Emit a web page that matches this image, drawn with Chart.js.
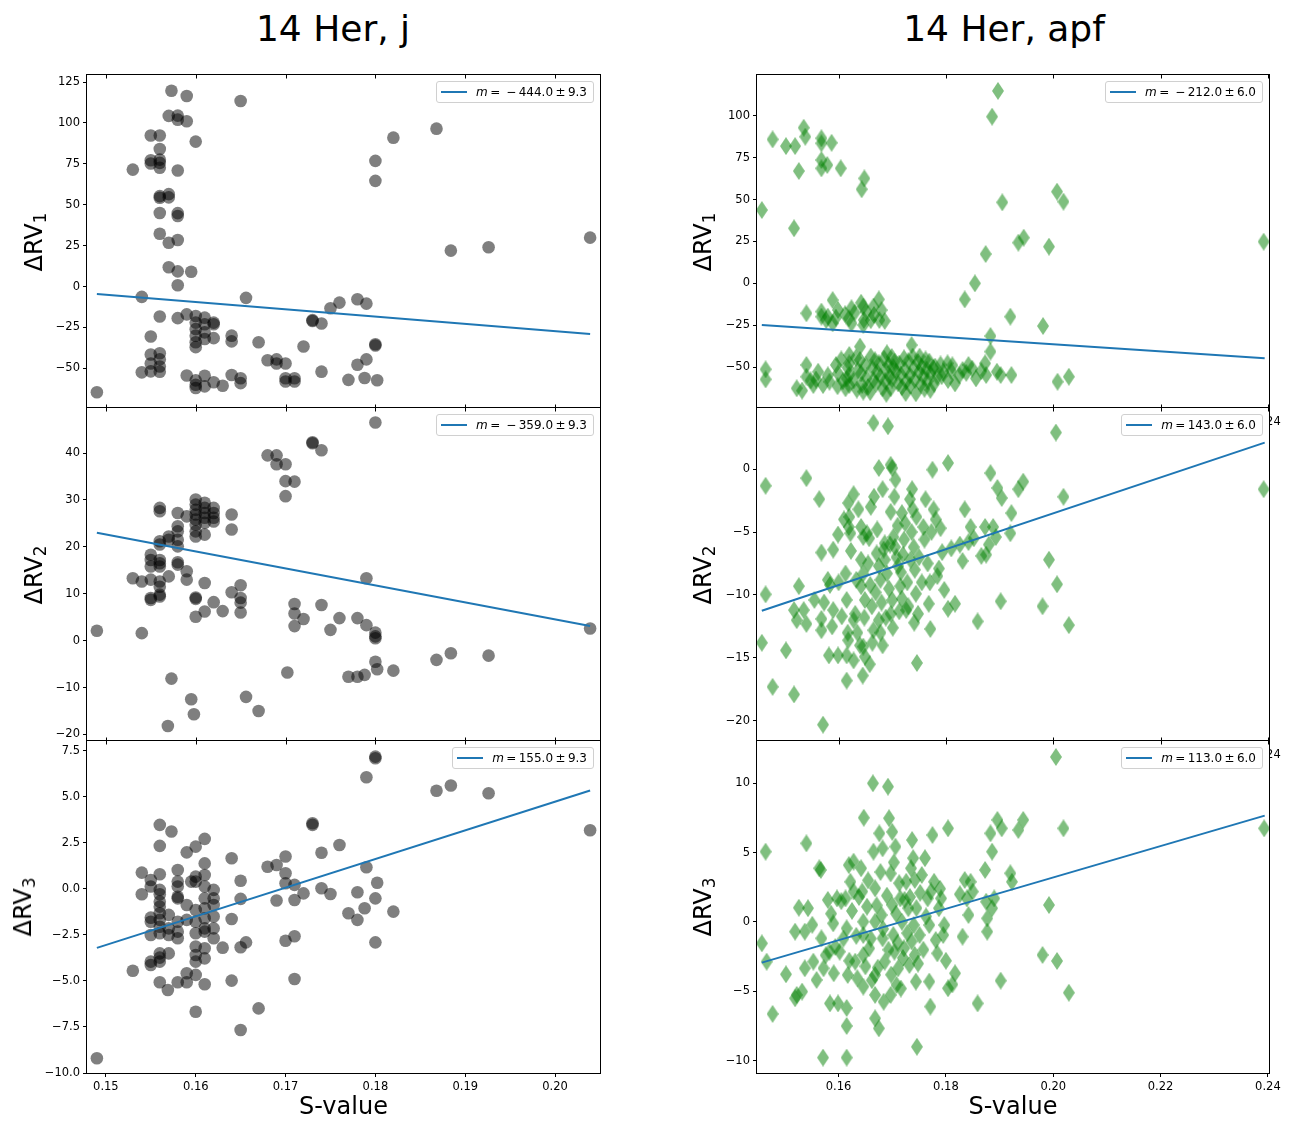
<!DOCTYPE html>
<html>
<head>
<meta charset="utf-8">
<script src="https://cdn.jsdelivr.net/npm/chart.js@4.4.1/dist/chart.umd.min.js"></script>
<style>
  body { margin: 0; background: #fff; font-family: 'DejaVu Sans', sans-serif; }
  #page { position: relative; width: 1291px; height: 1123px; overflow: hidden; background: #fff; }
  #page canvas { position: absolute; }
  .title { position: absolute; top: 11px; font-size: 36px; line-height: 36px; white-space: nowrap; transform: translateX(-50%); color: #000; }
  .ylab { position: absolute; font-size: 24px; line-height: 24px; white-space: nowrap; color: #000;
          transform: translate(-50%, -50%) rotate(-90deg); z-index: 30; }
  .ylab sub { font-size: 0.7em; vertical-align: -0.25em; line-height: 0; }
  .leg { position: absolute; height: 20px; display: flex; align-items: center; padding: 0 6px 0 4px;
         border: 1px solid #d0d0d0; border-radius: 3px; background: rgba(255,255,255,0.8);
         font-size: 12px; white-space: nowrap; z-index: 30; color: #000; }
  .leg .ln { display: inline-block; width: 26px; height: 2px; background: #1f77b4; margin-right: 9px; }
</style>
</head>
<body>
<div id="page">
  <div class="title" style="left:333px">14 Her, j</div>
  <div class="title" style="left:1004px">14 Her, apf</div>
</div>
<script>
// S-value tick marks
const jTicksX = [0.15, 0.16, 0.17, 0.18, 0.19, 0.20];
const apfTicksX = [0.16, 0.18, 0.20, 0.22, 0.24];

// y tick marks per panel
const jTicksY1 = [125, 100, 75, 50, 25, 0, -25, -50];
const jTicksY2 = [40, 30, 20, 10, 0, -10, -20];
const jTicksY3 = [7.5, 5, 2.5, 0, -2.5, -5, -7.5, -10];
const apfTicksY1 = [100, 75, 50, 25, 0, -25, -50];
const apfTicksY2 = [0, -5, -10, -15, -20];
const apfTicksY3 = [10, 5, 0, -5, -10];

// fitted slopes shown in the legends
const jSlope = [-444.0, -359.0, 155.0];
const jErr = 9.3;
const apfSlope = [-212.0, 143.0, 113.0];
const apfErr = 6.0;

// fit lines, [S, dRV] at both ends
const jFit1 = [[0.1490, -4.5], [0.2039, -29.0]];
const jFit2 = [[0.1490, 23.0], [0.2039, 3.1]];
const jFit3 = [[0.1490, -3.2], [0.2039, 5.35]];
const apfFit1 = [[0.1457, -24.9], [0.2394, -44.8]];
const apfFit2 = [[0.1457, -11.25], [0.2394, 2.1]];
const apfFit3 = [[0.1457, -2.93], [0.2394, 7.67]];

// j spectrograph: [S-value, dRV]
const jRv1 = [[0.1490,-64.6],[0.153,71.5],[0.154,-6.3],[0.154,-52.4],[0.155,92.3],[0.156,92.3],[0.156,84.1],[0.155,77.2],[0.155,75.2],[0.156,77.6],[0.156,75.6],[0.156,72.6],[0.156,55.3],[0.156,54.3],[0.157,56.5],[0.157,54.5],[0.156,45.0],[0.156,32.3],[0.157,26.8],[0.158,28.5],[0.158,44.9],[0.158,43.1],[0.157,11.8],[0.158,9.3],[0.1595,9.1],[0.158,0.8],[0.1573,119.7],[0.159,116.5],[0.157,104.3],[0.158,104.5],[0.158,102.0],[0.159,101.0],[0.160,88.6],[0.158,70.9],[0.165,113.4],[0.156,-18.3],[0.155,-30.5],[0.155,-41.5],[0.155,-47.0],[0.156,-40.7],[0.156,-44.5],[0.156,-48.8],[0.156,-52.0],[0.155,-51.8],[0.158,-19.3],[0.159,-17.0],[0.160,-18.0],[0.160,-22.0],[0.160,-26.0],[0.160,-30.0],[0.160,-34.0],[0.160,-37.0],[0.161,-19.0],[0.161,-23.0],[0.161,-28.0],[0.161,-32.0],[0.162,-22.0],[0.162,-23.0],[0.162,-31.5],[0.159,-54.3],[0.160,-57.3],[0.160,-60.0],[0.160,-62.0],[0.161,-54.5],[0.161,-61.0],[0.162,-58.5],[0.163,-60.6],[0.164,-54.0],[0.165,-56.0],[0.165,-59.0],[0.164,-30.0],[0.164,-33.5],[0.1656,-6.9],[0.167,-34.0],[0.168,-45.0],[0.169,-44.5],[0.169,-47.0],[0.170,-47.0],[0.170,-56.0],[0.170,-58.0],[0.171,-56.0],[0.171,-58.0],[0.172,-36.6],[0.173,-20.5],[0.173,-21.0],[0.174,-22.6],[0.175,-13.2],[0.176,-9.8],[0.178,-7.7],[0.179,-10.4],[0.174,-52.0],[0.177,-57.0],[0.178,-47.8],[0.179,-44.5],[0.1788,-55.9],[0.1802,-57.2],[0.180,-35.2],[0.180,-36.0],[0.180,76.8],[0.180,64.6],[0.182,91.0],[0.1868,96.5],[0.1884,22.0],[0.1926,24.0],[0.2039,29.9]];
const jRv2 = [[0.149,2.1],[0.153,13.3],[0.154,12.6],[0.154,1.6],[0.155,18.3],[0.155,17.2],[0.155,15.8],[0.155,13.0],[0.155,9.1],[0.155,8.7],[0.156,28.3],[0.156,27.6],[0.156,21.2],[0.156,20.5],[0.156,17.2],[0.156,16.5],[0.156,15.8],[0.156,12.6],[0.156,11.5],[0.156,9.8],[0.156,9.4],[0.157,22.2],[0.157,21.5],[0.157,13.7],[0.158,27.2],[0.158,24.4],[0.158,23.3],[0.158,21.5],[0.158,20.1],[0.158,16.7],[0.158,16.2],[0.159,26.5],[0.159,14.8],[0.159,13.0],[0.160,30.1],[0.160,29.0],[0.160,27.9],[0.160,26.9],[0.160,25.8],[0.160,24.7],[0.160,23.3],[0.160,22.2],[0.161,29.4],[0.161,28.3],[0.161,27.2],[0.161,26.2],[0.161,25.1],[0.161,22.6],[0.162,28.3],[0.162,27.2],[0.162,26.2],[0.162,25.4],[0.164,26.9],[0.164,23.7],[0.161,12.3],[0.160,9.2],[0.160,8.9],[0.160,5.1],[0.161,6.2],[0.162,8.2],[0.163,6.3],[0.164,10.3],[0.165,11.8],[0.165,9.1],[0.165,8.1],[0.165,6.0],[0.1573,-8.1],[0.1595,-12.5],[0.1598,-15.7],[0.1569,-18.2],[0.1656,-12.0],[0.167,-15.0],[0.168,39.5],[0.169,39.5],[0.169,37.6],[0.170,37.6],[0.170,34.0],[0.170,30.8],[0.171,33.9],[0.173,42.3],[0.173,42.1],[0.174,40.6],[0.180,46.5],[0.179,13.3],[0.171,7.8],[0.171,5.8],[0.171,3.1],[0.172,4.6],[0.174,7.6],[0.175,2.3],[0.176,4.8],[0.178,4.8],[0.179,3.3],[0.180,1.7],[0.180,0.9],[0.180,0.5],[0.1702,-6.8],[0.177,-7.7],[0.178,-7.7],[0.1788,-7.3],[0.180,-4.5],[0.1802,-6.1],[0.182,-6.4],[0.1868,-4.1],[0.1884,-2.7],[0.1926,-3.2],[0.2039,2.6]];
const jRv3 = [[0.149,-9.2],[0.153,-4.44],[0.154,0.89],[0.154,-0.29],[0.155,0.49],[0.155,0.13],[0.155,-1.56],[0.155,-1.78],[0.155,-2.5],[0.155,-3.95],[0.155,-4.13],[0.156,3.48],[0.156,2.34],[0.156,0.8],[0.156,-0.05],[0.156,-0.29],[0.156,-0.69],[0.156,-0.96],[0.156,-1.32],[0.156,-1.68],[0.156,-2.05],[0.156,-2.41],[0.156,-3.5],[0.156,-3.73],[0.156,-3.95],[0.156,-5.07],[0.157,-1.41],[0.157,-2.14],[0.157,-2.5],[0.157,-3.5],[0.1569,-5.49],[0.1573,3.12],[0.158,1.03],[0.158,0.4],[0.158,0.13],[0.158,-0.42],[0.158,-0.51],[0.158,-1.78],[0.158,-2.32],[0.158,-2.68],[0.158,-5.07],[0.159,1.99],[0.159,-0.87],[0.159,-1.68],[0.159,-4.58],[0.159,-5.07],[0.160,2.3],[0.160,0.67],[0.160,0.4],[0.160,-1.14],[0.160,-1.78],[0.160,-2.41],[0.160,-3.13],[0.160,-3.59],[0.160,-3.95],[0.160,-4.67],[0.160,-6.67],[0.1595,0.4],[0.161,2.72],[0.161,1.39],[0.161,0.76],[0.161,0.13],[0.161,-0.51],[0.161,-1.05],[0.161,-1.59],[0.161,-2.14],[0.161,-2.32],[0.161,-3.22],[0.161,-3.77],[0.161,-5.18],[0.162,-0.05],[0.162,-0.51],[0.162,-0.87],[0.162,-1.5],[0.162,-2.14],[0.162,-2.68],[0.163,-3.19],[0.164,1.67],[0.164,-1.63],[0.164,-4.98],[0.165,0.45],[0.165,-0.54],[0.165,-3.17],[0.1656,-2.9],[0.165,-7.66],[0.167,-6.49],[0.168,1.21],[0.169,1.3],[0.169,-0.63],[0.170,1.76],[0.170,0.85],[0.170,0.31],[0.170,-2.81],[0.171,0.22],[0.171,-0.6],[0.171,-2.57],[0.171,-4.89],[0.172,-0.24],[0.173,3.57],[0.173,3.48],[0.174,1.97],[0.174,0.04],[0.175,-0.27],[0.176,2.39],[0.177,-1.32],[0.178,-1.68],[0.178,-0.18],[0.1788,-1.05],[0.179,1.18],[0.179,6.07],[0.180,7.19],[0.180,7.1],[0.180,-0.51],[0.1802,0.34],[0.180,-2.9],[0.182,-1.23],[0.1868,5.34],[0.1884,5.62],[0.1926,5.2],[0.2039,3.19]];

// apf spectrograph: [S-value, dRV]
const apfRv1 = [[0.1457,43.8],[0.1477,86.0],[0.1502,82.0],[0.1519,82.0],[0.1517,32.9],[0.1526,67.1],[0.1535,93.0],[0.1538,87.6],[0.1568,86.7],[0.1568,83.7],[0.1568,73.7],[0.1568,68.7],[0.1579,70.7],[0.1587,84.0],[0.1604,68.7],[0.1648,62.7],[0.1643,56.2],[0.1897,115.0],[0.1886,99.6],[0.1905,48.4],[0.2007,54.8],[0.2019,48.8],[0.1935,24.3],[0.1945,27.3],[0.1992,21.9],[0.2392,24.9],[0.1874,17.5],[0.1854,0.0],[0.1835,-9.6],[0.1920,-19.9],[0.1981,-25.5],[0.1883,-31.5],[0.1883,-40.8],
  [0.1540,-17.9],[0.1568,-16.9],[0.1568,-19.9],[0.1580,-19.9],[0.1589,-10.0],[0.1589,-23.9],[0.1599,-15.9],[0.1624,-14.9],[0.1619,-20.9],[0.1624,-23.9],[0.1642,-11.6],[0.1646,-13.9],[0.1647,-21.9],[0.1646,-24.9],[0.1665,-13.9],[0.1675,-9.6],[0.1666,-18.9],[0.1676,-21.9],[0.1686,-22.5],
  [0.1577,-22.0],[0.1595,-20.5],[0.1630,-17.5],[0.1652,-17.0],[0.1660,-22.0],[0.1680,-16.0],[0.1612,-18.5],
  [0.1464,-51.4],[0.1464,-57.4],[0.1522,-62.7],[0.1532,-64.1],[0.1540,-48.8],[0.1540,-55.8],[0.1553,-60.8],[0.1562,-52.8],[0.1571,-60.8],[0.1583,-58.8],[0.1595,-48.8],[0.1599,-53.8],[0.1613,-62.7],[0.1615,-56.8],[0.1620,-42.8],[0.1620,-47.8],[0.1620,-54.8],[0.1620,-60.8],[0.1640,-37.8],[0.1640,-45.8],[0.1642,-53.8],[0.1644,-60.8],[0.1646,-64.7],[0.1660,-43.8],[0.1663,-50.8],[0.1665,-57.8],[0.1675,-47.8],[0.1678,-55.8],[0.1682,-62.7],[0.1690,-41.8],[0.1693,-48.8],[0.1695,-55.8],[0.1697,-62.7],[0.1704,-46.8],[0.1707,-52.8],[0.1711,-59.8],[0.1722,-44.8],[0.1724,-51.8],[0.1726,-58.8],[0.1736,-36.9],[0.1738,-43.8],[0.1740,-50.8],[0.1742,-57.8],[0.1744,-65.7],[0.1751,-43.8],[0.1755,-49.8],[0.1758,-55.8],[0.1769,-46.8],[0.1771,-53.8],[0.1771,-63.7],[0.1780,-49.8],[0.1784,-55.8],[0.1795,-52.8],[0.1803,-47.8],[0.1804,-57.8],[0.1817,-59.8],[0.1831,-51.8],[0.1842,-48.8],[0.1856,-56.8],[0.1873,-47.8],[0.1875,-54.8],[0.1895,-52.8],[0.1902,-54.8],[0.1922,-54.8],[0.2008,-58.8],[0.2029,-55.8],
  [0.1617,-50.5],[0.1628,-58.0],[0.1632,-44.5],[0.1636,-52.0],[0.1650,-49.0],[0.1652,-56.5],[0.1655,-62.0],[0.1668,-46.0],[0.1672,-53.0],[0.1670,-60.0],[0.1685,-45.0],[0.1688,-52.0],[0.1687,-58.5],[0.1699,-44.0],[0.1702,-50.0],[0.1700,-57.5],[0.1713,-48.0],[0.1716,-54.5],[0.1718,-62.0],[0.1730,-46.5],[0.1733,-55.0],[0.1733,-61.0],[0.1748,-47.0],[0.1750,-53.0],[0.1753,-60.5],[0.1762,-45.5],[0.1764,-51.5],[0.1766,-58.5],[0.1776,-50.5],[0.1778,-60.0],[0.1790,-48.5],[0.1792,-55.5],[0.1810,-52.5],[0.1812,-49.0],[0.1825,-55.0],[0.1838,-53.5],[0.1849,-51.0],[0.1866,-52.5],[0.1608,-58.5],[0.1605,-45.5],[0.1580,-55.0],[0.1558,-57.5],[0.1548,-58.0],[0.1598,-61.5],[0.1634,-63.5],[0.1659,-65.0],[0.1689,-66.0],[0.1725,-65.5],[0.1760,-63.0]];
const apfRv2 = [[0.1457,-13.8],[0.1464,-1.33],[0.1464,-9.95],[0.1477,-17.3],[0.1502,-14.4],[0.1517,-17.9],[0.1517,-11.2],[0.1522,-12.0],[0.1526,-9.3],[0.1535,-11.2],[0.1540,-12.3],[0.1540,-0.72],[0.1555,-10.4],[0.1564,-2.39],[0.1568,-6.63],[0.1568,-11.9],[0.1568,-12.8],[0.1571,-20.3],[0.1573,-10.6],[0.1580,-8.8],[0.1584,-9.2],[0.1588,-12.5],[0.1590,-6.4],[0.1582,-14.8],[0.1599,-14.8],[0.1599,-5.2],[0.1606,-11.7],[0.1613,-8.3],[0.1615,-10.4],[0.1617,-13.0],[0.1618,-13.6],[0.1615,-14.8],[0.1615,-16.8],[0.1618,-2.7],[0.1620,-3.8],[0.1619,-4.6],[0.1622,-5.1],[0.1628,-2.0],[0.1628,-12.0],[0.1631,-11.5],[0.1635,-13.0],[0.1640,-14.0],[0.1646,-14.1],[0.1649,-14.9],[0.1642,-4.6],[0.1646,-5.4],[0.1653,-5.1],[0.1642,-7.2],[0.1646,-8.3],[0.1642,-9.3],[0.1649,-10.4],[0.1657,-5.5],[0.1659,-9.2],[0.1662,-10.9],[0.1665,-12.8],[0.1665,3.66],[0.1666,-2.2],[0.1675,0.08],[0.1671,-6.7],[0.1675,-7.7],[0.1678,-8.8],[0.1675,-12.0],[0.1678,-13.0],[0.1682,-14.0],[0.1682,-1.6],[0.1686,-5.9],[0.1686,-7.2],[0.1690,-8.3],[0.1692,3.4],[0.1697,0.34],[0.1700,0.08],[0.1697,-3.4],[0.1697,-11.5],[0.1700,-10.4],[0.1702,-5.4],[0.1705,-6.2],[0.1708,-7.0],[0.1706,-0.85],[0.1711,-7.7],[0.1715,-9.3],[0.1718,-10.3],[0.1718,-3.5],[0.1722,-5.6],[0.1726,-11.2],[0.1730,-10.9],[0.1733,-2.4],[0.1737,-1.6],[0.1738,-3.2],[0.1740,-6.2],[0.1742,-8.0],[0.1744,-9.9],[0.1746,-15.4],[0.1748,-11.5],[0.1758,-4.6],[0.1762,-2.4],[0.1766,-7.5],[0.1768,-10.7],[0.1771,-12.7],[0.1777,-3.2],[0.1775,-0.05],[0.1784,-8.5],[0.1787,-7.9],[0.1790,-4.7],[0.1793,-6.6],[0.1804,0.48],[0.1804,-11.1],[0.1817,-10.7],[0.1831,-7.3],[0.1835,-3.2],[0.1842,-5.8],[0.1846,-4.6],[0.1859,-12.1],[0.1873,-4.6],[0.1875,-6.8],[0.1883,-0.32],[0.1888,-4.6],[0.1893,-5.4],[0.1896,-1.5],[0.1904,-2.3],[0.1902,-10.5],[0.1920,-5.1],[0.1922,-3.5],[0.1935,-1.6],[0.1944,-1.0],[0.1980,-10.9],[0.1992,-7.2],[0.2005,2.9],[0.2007,-9.15],[0.2019,-2.2],[0.2029,-12.4],[0.2392,-1.6],
  [0.1610,-4.0],[0.1623,-6.5],[0.1633,-8.8],[0.1637,-3.2],[0.1648,-11.8],[0.1655,-7.5],[0.1660,-3.0],[0.1663,-13.8],[0.1669,-9.8],[0.1672,-4.8],[0.1680,-10.6],[0.1684,-6.4],[0.1688,-11.8],[0.1694,-9.5],[0.1696,-6.0],[0.1701,-12.6],[0.1704,-2.2],[0.1710,-4.5],[0.1713,-11.3],[0.1716,-8.2],[0.1720,-6.8],[0.1724,-4.3],[0.1728,-9.0],[0.1734,-7.2],[0.1736,-5.0],[0.1741,-12.2],[0.1745,-3.8],[0.1750,-7.0],[0.1755,-9.0],[0.1760,-5.6],[0.1770,-9.0],[0.1773,-5.0],[0.1781,-4.0],[0.1797,-9.6],[0.1810,-6.3],[0.1826,-6.0],[0.1852,-5.5],[0.1866,-6.9],[0.1880,-6.0],[0.1600,-9.0],[0.1590,-11.2],[0.1628,-15.2],[0.1645,-16.4],[0.1658,-15.5]];
const apfRv3 = [[0.1457,-1.54],[0.1464,5.07],[0.1466,-2.86],[0.1477,-6.63],[0.1502,-3.77],[0.1519,-5.5],[0.1522,-5.26],[0.1519,-0.7],[0.1526,1.03],[0.1532,-5.02],[0.1537,-3.34],[0.1540,5.67],[0.1543,0.99],[0.1537,-0.7],[0.1553,-2.86],[0.1559,-4.18],[0.1564,3.87],[0.1567,3.75],[0.1568,-1.18],[0.1572,-3.34],[0.1571,-9.78],[0.1580,1.59],[0.1584,-5.87],[0.1583,-2.14],[0.1590,-0.1],[0.1591,-3.7],[0.1597,1.7],[0.1599,-5.87],[0.1602,-2.14],[0.1613,1.7],[0.1615,-0.46],[0.1617,-3.82],[0.1615,-6.2],[0.1615,-7.5],[0.1615,-9.78],[0.1619,4.1],[0.1622,2.9],[0.1628,4.35],[0.1628,2.2],[0.1631,-2.86],[0.1635,-4.06],[0.1642,3.87],[0.1644,2.2],[0.1646,0.02],[0.1647,7.52],[0.1646,-0.94],[0.1646,-2.38],[0.1646,-4.66],[0.1653,1.1],[0.1657,-1.9],[0.1664,10.0],[0.1665,5.07],[0.1668,2.43],[0.1668,0.02],[0.1668,-3.82],[0.1668,-5.26],[0.1668,-6.95],[0.1675,-7.67],[0.1676,6.39],[0.1682,5.31],[0.1680,0.5],[0.1682,-1.18],[0.1686,-2.86],[0.1684,-5.75],[0.1692,9.76],[0.1694,7.48],[0.1697,3.5],[0.1700,1.22],[0.1702,-0.94],[0.1704,-2.14],[0.1697,-5.26],[0.1700,6.5],[0.1706,5.43],[0.1708,-4.54],[0.1711,-3.34],[0.1715,1.7],[0.1718,0.02],[0.1722,-1.9],[0.1726,2.9],[0.1730,0.99],[0.1732,-3.1],[0.1735,3.87],[0.1737,5.91],[0.1739,4.6],[0.1742,3.03],[0.1740,-0.22],[0.1742,-2.38],[0.1744,-4.3],[0.1746,-9.0],[0.1751,-0.94],[0.1755,3.39],[0.1761,4.6],[0.1766,1.7],[0.1769,-0.22],[0.1769,-4.3],[0.1771,-6.1],[0.1775,6.27],[0.1778,2.9],[0.1784,-2.26],[0.1787,0.99],[0.1791,1.7],[0.1795,-0.94],[0.1797,-0.22],[0.1804,6.75],[0.1804,-4.78],[0.1817,-3.7],[0.1831,-1.06],[0.1835,3.03],[0.1839,1.7],[0.1842,0.5],[0.1846,2.9],[0.1850,2.19],[0.1859,-5.87],[0.1873,3.75],[0.1875,1.46],[0.1877,0.26],[0.1877,-0.7],[0.1883,6.39],[0.1886,5.07],[0.1886,0.99],[0.1890,1.7],[0.1896,7.36],[0.1904,6.75],[0.1902,-4.23],[0.1920,3.51],[0.1923,2.9],[0.1935,6.63],[0.1944,7.36],[0.1980,-2.38],[0.1992,1.22],[0.2005,11.9],[0.2007,-2.81],[0.2019,6.75],[0.2029,-5.1],[0.2393,6.75],
  [0.1605,1.5],[0.1609,-1.2],[0.1620,-2.8],[0.1625,0.8],[0.1633,-1.0],[0.1638,1.8],[0.1650,-3.2],[0.1655,3.0],[0.1660,-1.2],[0.1662,-4.2],[0.1671,1.2],[0.1673,-3.3],[0.1678,3.6],[0.1683,-0.5],[0.1690,1.9],[0.1693,-2.0],[0.1698,-3.8],[0.1703,4.3],[0.1707,0.6],[0.1710,-1.5],[0.1713,2.8],[0.1716,-4.8],[0.1720,-2.6],[0.1723,1.6],[0.1728,-0.8],[0.1733,1.8],[0.1736,-1.4],[0.1745,1.0],[0.1748,-3.0],[0.1752,2.1],[0.1758,-2.0],[0.1763,0.4],[0.1772,2.2],[0.1781,-1.3],[0.1789,2.4],[0.1800,-2.8],[0.1812,-4.5],[0.1826,2.0],[0.1594,-1.8],[0.1586,0.6],[0.1576,-2.4],[0.1551,-0.2]];

// thin green diamond marker
const diamond = document.createElement('canvas');
diamond.width = 12;
diamond.height = 18;
const dctx = diamond.getContext('2d');
dctx.fillStyle = 'rgba(0,128,0,0.5)';
dctx.beginPath();
dctx.moveTo(6, 0); dctx.lineTo(12, 9); dctx.lineTo(6, 18); dctx.lineTo(0, 9);
dctx.closePath();
dctx.fill();

const fontFamily = "'DejaVu Sans', sans-serif";
const rowTop = [75, 408, 741];
const rowBottom = [408, 741, 1073];
const columns = [
  { canvasLeft: 0, canvasWidth: 620, axisWidth: 87, padRight: 20, ticksX: jTicksX, xMin: 0.1479, xMax: 0.2050, labelX: [33.8, 33.8, 23.2] },
  { canvasLeft: 650, canvasWidth: 641, axisWidth: 107, padRight: 22, ticksX: apfTicksX, xMin: 0.1448, xMax: 0.2402, labelX: [703.2, 703.2, 703.2] }
];
const panels = [
  { col: 0, row: 0, points: jRv1, fit: jFit1, ticksY: jTicksY1, yMin: -74.2, yMax: 129.3, dec: 0, slope: jSlope[0], err: jErr },
  { col: 0, row: 1, points: jRv2, fit: jFit2, ticksY: jTicksY2, yMin: -21.4, yMax: 49.6, dec: 0, slope: jSlope[1], err: jErr },
  { col: 0, row: 2, points: jRv3, fit: jFit3, ticksY: jTicksY3, yMin: -10.0, yMax: 8.04, dec: 1, slope: jSlope[2], err: jErr },
  { col: 1, row: 0, points: apfRv1, fit: apfFit1, ticksY: apfTicksY1, yMin: -74.5, yMax: 124.5, dec: 0, slope: apfSlope[0], err: apfErr },
  { col: 1, row: 1, points: apfRv2, fit: apfFit2, ticksY: apfTicksY2, yMin: -21.6, yMax: 4.85, dec: 0, slope: apfSlope[1], err: apfErr },
  { col: 1, row: 2, points: apfRv3, fit: apfFit3, ticksY: apfTicksY3, yMin: -10.89, yMax: 13.05, dec: 0, slope: apfSlope[2], err: apfErr }
];

const minus = s => s.replace('-', '\u2212');

// white axes background, box frame and inward x ticks (like matplotlib)
const framePlugin = {
  id: 'frame',
  beforeDraw(chart) {
    const a = chart.chartArea, c = chart.ctx;
    c.save();
    c.fillStyle = '#fff';
    c.fillRect(a.left, a.top, a.right - a.left, a.bottom - a.top);
    c.restore();
  },
  afterDraw(chart, args, opts) {
    const a = chart.chartArea, c = chart.ctx;
    const l = Math.round(a.left) - 0.5, r = Math.round(a.right) + 0.5;
    const t = Math.round(a.top) - 0.5, b = Math.round(a.bottom) + 0.5;
    c.save();
    c.strokeStyle = '#000';
    c.lineWidth = 1;
    c.strokeRect(l, t, r - l, b - t);
    c.beginPath();
    chart.scales.x.ticks.forEach(tk => {
      const px = Math.round(chart.scales.x.getPixelForValue(tk.value)) + 0.5;
      c.moveTo(px, t); c.lineTo(px, t + 4);
      if (opts.bottomIn) { c.moveTo(px, b); c.lineTo(px, b - 4); }
    });
    c.stroke();
    c.restore();
  }
};

const page = document.getElementById('page');

panels.forEach(p => {
  const col = columns[p.col];
  const last = p.row === 2;
  const xAxisH = last ? 50 : 25;
  const top = rowTop[p.row] - 10;
  const height = 10 + (rowBottom[p.row] - rowTop[p.row]) + xAxisH;

  const cv = document.createElement('canvas');
  cv.width = col.canvasWidth;
  cv.height = height;
  cv.style.left = col.canvasLeft + 'px';
  cv.style.top = top + 'px';
  cv.style.zIndex = String(p.row + 1);
  page.appendChild(cv);

  new Chart(cv, {
    type: 'scatter',
    data: {
      datasets: [
        {
          type: 'line',
          data: p.fit.map(([x, y]) => ({ x, y })),
          borderColor: '#1f77b4',
          borderWidth: 2,
          pointRadius: 0,
          fill: false,
          order: 0
        },
        {
          data: p.points.map(([x, y]) => ({ x, y })),
          pointStyle: p.col === 0 ? 'circle' : diamond,
          pointRadius: p.col === 0 ? 6.3 : 6,
          backgroundColor: 'rgba(0,0,0,0.5)',
          borderWidth: 0,
          order: 1
        }
      ]
    },
    options: {
      responsive: false,
      animation: false,
      devicePixelRatio: 1,
      events: [],
      layout: { padding: { top: 10, right: col.padRight, left: 0, bottom: 0 } },
      plugins: {
        legend: { display: false },
        tooltip: { enabled: false },
        frame: { bottomIn: !last }
      },
      scales: {
        x: {
          type: 'linear',
          position: 'bottom',
          min: col.xMin,
          max: col.xMax,
          afterBuildTicks: s => { s.ticks = col.ticksX.map(v => ({ value: v })); },
          afterFit: s => { s.height = xAxisH; },
          border: { display: false },
          grid: { drawOnChartArea: false, drawTicks: last, tickLength: 4, color: '#000' },
          ticks: {
            color: '#000',
            font: { family: fontFamily, size: 11.5 },
            padding: last ? 3 : 7,
            maxRotation: 0,
            autoSkip: false,
            callback: v => v.toFixed(2)
          },
          title: {
            display: last,
            text: 'S-value',
            color: '#000',
            font: { family: fontFamily, size: 24 },
            padding: { top: 0, bottom: 1 }
          }
        },
        y: {
          type: 'linear',
          min: p.yMin,
          max: p.yMax,
          afterBuildTicks: s => { s.ticks = p.ticksY.map(v => ({ value: v })); },
          afterFit: s => { s.width = col.axisWidth; },
          border: { display: false },
          grid: { drawOnChartArea: false, drawTicks: true, tickLength: 4, color: '#000' },
          ticks: {
            color: '#000',
            font: { family: fontFamily, size: 11.5 },
            padding: 3,
            autoSkip: false,
            callback: v => minus(v.toFixed(p.dec))
          }
        }
      }
    },
    plugins: [framePlugin]
  });

  // y label with subscript
  const lab = document.createElement('div');
  lab.className = 'ylab';
  lab.innerHTML = '\u0394RV<sub>' + (p.row + 1) + '</sub>';
  lab.style.left = col.labelX[p.row] + 'px';
  lab.style.top = ((rowTop[p.row] + rowBottom[p.row]) / 2) + 'px';
  page.appendChild(lab);

  // legend box in the upper right corner of the axes
  const chartRight = col.canvasLeft + col.canvasWidth - col.padRight;
  const leg = document.createElement('div');
  leg.className = 'leg';
  const sl = p.slope < 0 ? '\u2002\u2212\u2009' + Math.abs(p.slope).toFixed(1) : '\u2009' + p.slope.toFixed(1);
  leg.innerHTML = '<span class="ln"></span><span><i>m</i>\u2009=' + sl + '\u2009\u00b1\u2009' + p.err.toFixed(1) + '</span>';
  leg.style.right = (1291 - chartRight + 6) + 'px';
  leg.style.top = (rowTop[p.row] + 6) + 'px';
  page.appendChild(leg);
});
</script>
</body>
</html>
